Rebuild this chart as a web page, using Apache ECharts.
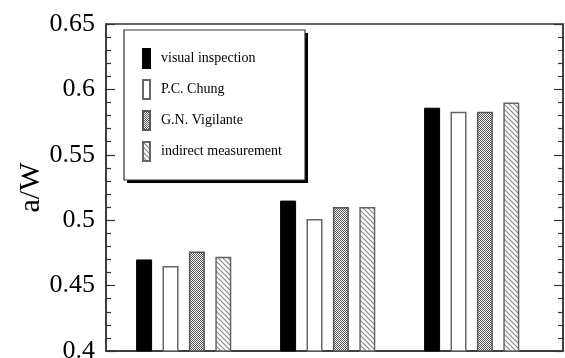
<!DOCTYPE html>
<html>
<head>
<meta charset="utf-8">
<script src="https://cdn.jsdelivr.net/npm/echarts@6/dist/echarts.min.js"></script>
<style>
html,body{margin:0;padding:0;background:#fff;}
#chart{width:565px;height:358px;}
</style>
</head>
<body>
<div id="chart"></div>
<script>
// ---- data ----
var categories = ['Group 1', 'Group 2', 'Group 3'];
var seriesNames = ['visual inspection', 'P.C. Chung', 'G.N. Vigilante', 'indirect measurement'];
var visualInspection = [0.470, 0.515, 0.586];
var pcChung = [0.465, 0.501, 0.583];
var gnVigilante = [0.476, 0.510, 0.583];
var indirectMeasurement = [0.472, 0.510, 0.590];
var yTicks = [0.4, 0.45, 0.5, 0.55, 0.6, 0.65];

// ---- patterns ----
function crossPattern() {
  var c = document.createElement('canvas');
  c.width = 4; c.height = 4;
  var g = c.getContext('2d');
  g.fillStyle = '#ffffff'; g.fillRect(0, 0, 4, 4);
  g.fillStyle = '#555555';
  for (var y = 0; y < 4; y++) for (var x = 0; x < 4; x++) if ((x + y) % 2 === 0) g.fillRect(x, y, 1, 1);
  return c;
}
function hatchPattern() {
  var c = document.createElement('canvas');
  c.width = 5; c.height = 5;
  var g = c.getContext('2d');
  g.fillStyle = '#ffffff'; g.fillRect(0, 0, 5, 5);
  g.strokeStyle = '#8a8a8a'; g.lineWidth = 1.2;
  g.beginPath();
  g.moveTo(-1, -1); g.lineTo(6, 6);
  g.moveTo(-1, 4); g.lineTo(1, 6);
  g.moveTo(4, -1); g.lineTo(6, 1);
  g.stroke();
  return c;
}

var chart = echarts.init(document.getElementById('chart'));
var font = '"Liberation Serif", "Times New Roman", serif';
var fillStyles = [
  { color: '#000000', borderColor: '#000000', borderWidth: 1 },
  { color: '#ffffff', borderColor: '#666666', borderWidth: 1.5 },
  { color: { image: crossPattern(), repeat: 'repeat' }, borderColor: '#555555', borderWidth: 1.5 },
  { color: { image: hatchPattern(), repeat: 'repeat' }, borderColor: '#666666', borderWidth: 1.5 }
];
var values = [visualInspection, pcChung, gnVigilante, indirectMeasurement];

var series = seriesNames.map(function (n, i) {
  return {
    name: n, type: 'bar', xAxisIndex: 1, yAxisIndex: 2,
    data: values[i], barWidth: 16, barGap: '65%',
    itemStyle: fillStyles[i], animation: false
  };
});

var yMin = yTicks[0], yMax = yTicks[yTicks.length - 1];
var axisLineStyle = { color: '#333', width: 1.5 };

chart.setOption({
  animation: false,
  grid: [
    { left: 106, top: 24, right: 2, bottom: 7, outerBoundsMode: 'none', containLabel: false, show: true, borderColor: '#333', borderWidth: 1.5, backgroundColor: 'transparent' },
    { left: 111.7, top: 24, width: 432, bottom: 7, outerBoundsMode: 'none', containLabel: false }
  ],
  xAxis: [
    { gridIndex: 0, type: 'value', min: 0, max: 1, axisLine: { show: true, lineStyle: axisLineStyle }, axisTick: { show: false }, axisLabel: { show: false }, splitLine: { show: false } },
    { gridIndex: 1, type: 'category', data: categories, axisLine: { show: false }, axisTick: { show: false }, axisLabel: { show: false } }
  ],
  yAxis: [
    {
      gridIndex: 0, type: 'value', min: yMin, max: yMax, interval: 0.05, position: 'left',
      name: 'a/W', nameLocation: 'middle', nameGap: 60, nameMoveOverlap: false,
      nameTextStyle: { fontFamily: font, fontSize: 30, color: '#000' },
      axisLine: { show: true, lineStyle: axisLineStyle },
      axisTick: { show: true, inside: true, length: 9, lineStyle: { color: '#333', width: 1.2 } },
      minorTick: { show: true, splitNumber: 5, length: 5, lineStyle: { color: '#333', width: 1.2 } },
      axisLabel: { fontFamily: font, fontSize: 26, color: '#000', margin: 11, formatter: function (v) { return String(+v.toFixed(2)); } },
      splitLine: { show: false }
    },
    {
      gridIndex: 0, type: 'value', min: yMin, max: yMax, interval: 0.05, position: 'right',
      axisLine: { show: true, lineStyle: axisLineStyle },
      axisTick: { show: true, inside: true, length: 9, lineStyle: { color: '#333', width: 1.2 } },
      minorTick: { show: true, splitNumber: 5, length: 5, lineStyle: { color: '#333', width: 1.2 } },
      axisLabel: { show: false }, splitLine: { show: false }
    },
    { gridIndex: 1, type: 'value', min: yMin, max: yMax, show: false }
  ],
  graphic: [
    { type: 'rect', z: 5, shape: { x: 127, y: 33, width: 181, height: 150 }, style: { fill: '#000' }, silent: true },
    { type: 'rect', z: 6, shape: { x: 124, y: 30, width: 181, height: 150 }, style: { fill: '#fff', stroke: '#333', lineWidth: 1.2 }, silent: true }
  ],
  legend: {
    orient: 'vertical', left: 142, top: 48, z: 20,
    padding: 0,
    icon: 'rect',
    itemWidth: 7, itemHeight: 19, itemGap: 10,
    textStyle: { fontFamily: font, fontSize: 14, color: '#000', padding: [0, 0, 0, 6] },
    data: seriesNames
  },
  series: series
});
</script>
</body>
</html>
